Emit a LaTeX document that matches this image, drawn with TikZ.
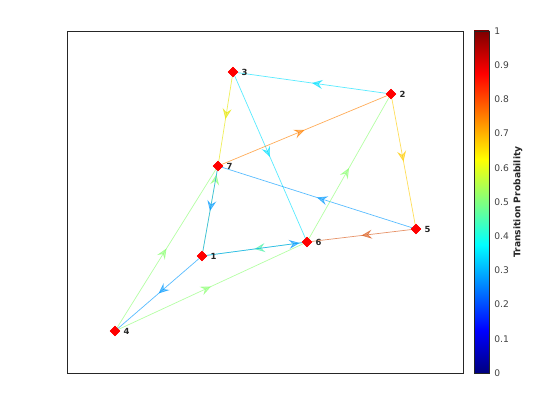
\documentclass[tikz,border=0pt]{standalone}
\usepackage{fontspec}
\setmainfont{DejaVu Sans}
\usepackage{tikz}
\usetikzlibrary{arrows.meta,shapes.geometric,decorations.markings}

% jet colours
\definecolor{jcyan}{rgb}{0,0.88,1}
\definecolor{jyel}{rgb}{0.9,0.9,0}
\definecolor{jgold}{rgb}{1,0.8,0}
\definecolor{jorange}{rgb}{1,0.5,0}
\definecolor{jred}{rgb}{0.85,0.35,0.1}
\definecolor{jblue}{rgb}{0,0.6,1}
\definecolor{jteal}{rgb}{0.3,0.95,0.65}
\definecolor{jlime}{rgb}{0.55,1,0.45}

\begin{document}
\begin{tikzpicture}[
			x=0.025cm,y=-0.025cm,
			font=\fontsize{6.5}{7}\selectfont,
			vert/.style={diamond,fill=red,draw=red,minimum size=7pt,inner sep=0pt},
			vlabel/.style={font=\fontsize{6}{7}\selectfont\bfseries,text=black!85,inner sep=0pt,anchor=west},
			edge/.style={draw opacity=0.65,line width=0.5pt},
			midarrow/.style={postaction={decorate,decoration={markings,
				mark=at position #1 with {\arrow[fill opacity=0.55]{Stealth[length=7.5pt,width=6.5pt,inset=2.8pt]}}}}},
			midarrow/.default=0.5,
			tick/.style={anchor=west,text=black!75,inner sep=0pt},
			]
			
			\useasboundingbox (0,0) rectangle (560,420);
			
			% Axes box
			\draw[black!85,line width=0.6pt] (67,31) rectangle (463,373);
			
			% Vertices
			\node[vert] (n1) at (202,256) {};
			\node[vert] (n2) at (391,94) {};
			\node[vert] (n3) at (233,72) {};
			\node[vert] (n4) at (115,331) {};
			\node[vert] (n5) at (416,229) {};
			\node[vert] (n6) at (307,242) {};
			\node[vert] (n7) at (218,166) {};
			
			% Edges
			\draw[edge,jcyan,midarrow] (n2) -- (n3);
			\draw[edge,jyel,midarrow] (n3) -- (n7);
			\draw[edge,jcyan,midarrow] (n3) -- (n6);
			\draw[edge,jorange,midarrow] (n7) -- (n2);
			\draw[edge,jgold,midarrow] (n2) -- (n5);
			\draw[edge,jblue,midarrow] (n5) -- (n7);
			\draw[edge,jred,midarrow] (n5) -- (n6);
			\draw[edge,jlime,midarrow=0.95] (n1) -- (n7);
			\draw[edge,jblue,midarrow] (n7) -- (n1);
			\draw[edge,jteal,midarrow] (n6) -- (n1);
			\draw[edge,jblue,midarrow=0.97] (n1) -- (n6);
			\draw[edge,jlime,midarrow] (n6) -- (n2);
			\draw[edge,jblue,midarrow] (n1) -- (n4);
			\draw[edge,jlime,midarrow] (n4) -- (n7);
			\draw[edge,jlime,midarrow] (n4) -- (n6);
			
			% redraw vertices on top
			\foreach \v in {1,...,7}
				\fill[red] (n\v.north) -- (n\v.east) -- (n\v.south) -- (n\v.west) -- cycle;
			
			% Vertex labels
			\node[vlabel] (l1) at ([xshift=6]n1.center) {1};
			\node[vlabel] (l2) at ([xshift=6]n2.center) {2};
			\node[vlabel] (l3) at ([xshift=6]n3.center) {3};
			\node[vlabel] (l4) at ([xshift=6]n4.center) {4};
			\node[vlabel] (l5) at ([xshift=6]n5.center) {5};
			\node[vlabel] (l6) at ([xshift=6]n6.center) {6};
			\node[vlabel] (l7) at ([xshift=6]n7.center) {7};
			
			% Colorbar
			\shade[bottom color={rgb,1:red,0;green,0;blue,0.5},top color={rgb,1:red,0;green,0;blue,1}] (474,373) rectangle (489,330.25);
			\shade[bottom color={rgb,1:red,0;green,0;blue,1},top color={rgb,1:red,0;green,1;blue,1}] (474,330.25) rectangle (489,244.75);
			\shade[bottom color={rgb,1:red,0;green,1;blue,1},top color={rgb,1:red,1;green,1;blue,0}] (474,244.75) rectangle (489,159.25);
			\shade[bottom color={rgb,1:red,1;green,1;blue,0},top color={rgb,1:red,1;green,0;blue,0}] (474,159.25) rectangle (489,73.75);
			\shade[bottom color={rgb,1:red,1;green,0;blue,0},top color={rgb,1:red,0.5;green,0;blue,0}] (474,73.75) rectangle (489,31);
			\draw[black!85,line width=0.5pt] (474,31) rectangle (489,373) coordinate (cbar);
			\foreach \t [count=\i from 0] in {0,0.1,0.2,0.3,0.4,0.5,0.6,0.7,0.8,0.9,1}
				\node[tick] (t\i) at (494,373-34.2*\i) {\t};
			\node[rotate=90,font=\fontsize{6.5}{7}\selectfont\bfseries,text=black!85] (cblabel) at (518,202) {Transition Probability};
			
		\end{tikzpicture}
\end{document}
